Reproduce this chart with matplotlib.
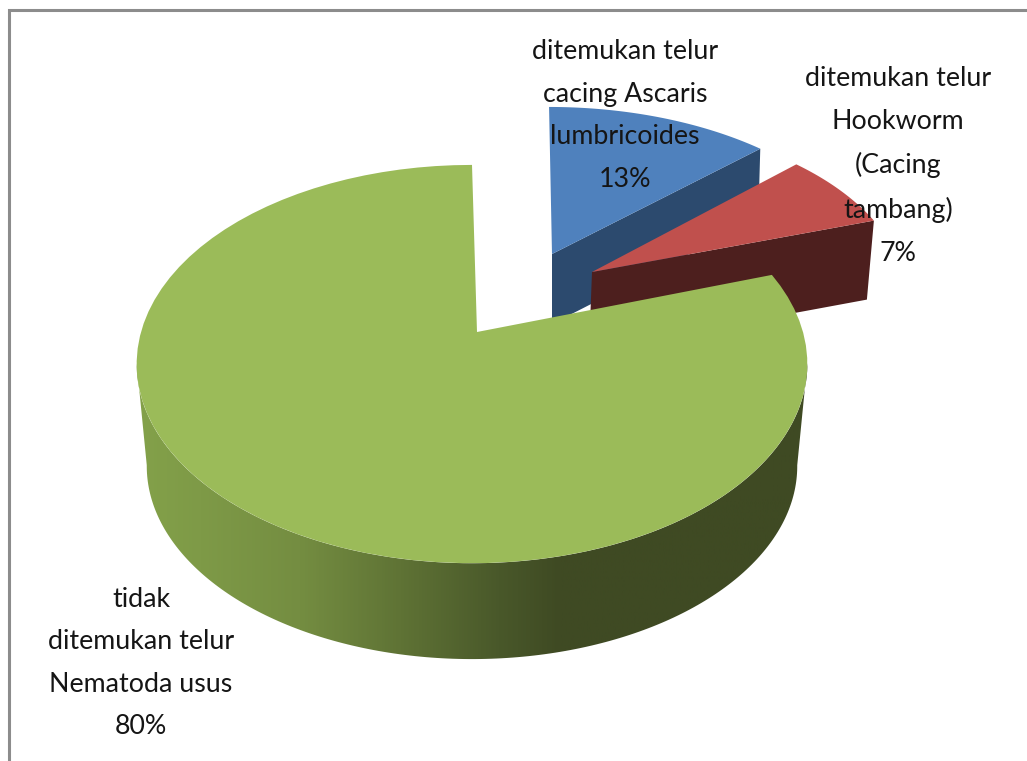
import numpy as np
import matplotlib
matplotlib.use('Agg')
import matplotlib.pyplot as plt
from matplotlib.colors import LinearSegmentedColormap
from matplotlib.patches import Polygon

labels = ['ditemukan telur\ncacing Ascaris\nlumbricoides\n13%',
          'ditemukan telur\nHookworm\n(Cacing\ntambang)\n7%',
          'tidak\nditemukan telur\nNematoda usus\n80%']
values = [13, 7, 80]
top_colors = ['#4F81BD', '#C0504D', '#9BBB59']
side_colors = ['#2C4A6E', '#4D1F1E']
shade_x = [130, 200, 300, 400, 500, 560, 810]
shade_colors = ['#84A24A', '#7E9A47', '#748D41', '#5F7335', '#49582A', '#3F4A23', '#3F4A23']

plt.rcParams['font.family'] = ['Lato', 'DejaVu Sans']


# circle of the pie to picture pixels, with a little perspective
def project(deg, cx=472, cy=332, a=331, b=194, k=0.161):
    t = np.radians(deg)
    f = 1 / (1 + k * np.sin(t))
    return cx + a * np.cos(t) * f, cy - b * np.sin(t) * f


def slice_top(start, end, apex, sx=1.0, sy=1.0, skew=0.0):
    t = np.linspace(start, end, 80)
    x, y = project(t)
    rx = (x - 472) * sx
    ry = (y - 332) * sy
    pts = np.column_stack([apex[0] + rx + skew * ry, apex[1] + ry])
    return np.vstack([apex, pts])


fig = plt.figure(figsize=(10.27, 7.61), dpi=100)
ax = fig.add_axes([0, 0, 1, 1])
ax.set_xlim(0, 1027)
ax.set_ylim(761, 0)
ax.axis('off')

# frame, only top and left show in the crop
ax.plot([9, 9, 1027], [761, 9.5, 9.5], color='#8C8C8C', lw=2.2, solid_joinstyle='miter')

# slice angles, clockwise from 12 o'clock
ends = 90 - np.cumsum(values) * 3.6
blue_start, blue_end = 90, ends[0]
red_start, red_end = ends[0], ends[1]

blue = slice_top(blue_start, blue_end, (552, 254), 0.968, 0.88, 0.02)
red = slice_top(red_start, red_end, (592, 272), 0.94, 0.9)
# the green rim stays on the main ellipse, its tip sits a bit right of the centre
green = slice_top(90, 90 + values[2] * 3.6, (472, 332))
green[0] = (477, 332)

# blue
bc = blue[-1]
ax.add_patch(Polygon([blue[0], bc, (bc[0] - 2, bc[1] + 70), (blue[0][0], blue[0][1] + 70)],
                     fc=side_colors[0], ec='none'))
ax.add_patch(Polygon(blue, fc=top_colors[0], ec='none'))

# red
rc = red[-1]
ax.add_patch(Polygon([red[0], rc, (rc[0] - 7, rc[1] + 79), (red[0][0] - 3, red[0][1] + 79)],
                     fc=side_colors[1], ec='none'))
ax.add_patch(Polygon(red, fc=top_colors[1], ec='none'))

# green wall with the left to right shading, joined at the widest points of both rims
t = np.linspace(189, 351, 200)
x1, y1 = project(t)
x2, y2 = project(t, cx=472, cy=435, a=321, b=188)
wall = Polygon(np.vstack([np.column_stack([x1, y1]), np.column_stack([x2, y2])[::-1]]),
               fc='none', ec='none')
ax.add_patch(wall)
pos = [(v - shade_x[0]) / (shade_x[-1] - shade_x[0]) for v in shade_x]
cmap = LinearSegmentedColormap.from_list('wall', list(zip(pos, shade_colors)))
grad = ax.imshow(np.linspace(0, 1, 512)[None, :], extent=(shade_x[0], shade_x[-1], 700, 300),
                 cmap=cmap, aspect='auto', zorder=1.5)
grad.set_clip_path(wall)
ax.set_xlim(0, 1027)
ax.set_ylim(761, 0)
ax.add_patch(Polygon(green, fc=top_colors[2], ec='none', zorder=1.6))

# labels
ax.text(625, 115.5, labels[0], ha='center', va='center', fontsize=19.3, color='#151515',
        linespacing=1.88, zorder=3)
ax.text(898, 166, labels[1], ha='center', va='center', fontsize=19.3, color='#151515',
        linespacing=1.88, zorder=3)
ax.text(141, 663, labels[2], ha='center', va='center', fontsize=19.3, color='#151515',
        linespacing=1.88, zorder=3)

fig.savefig('out.png', dpi=100)
